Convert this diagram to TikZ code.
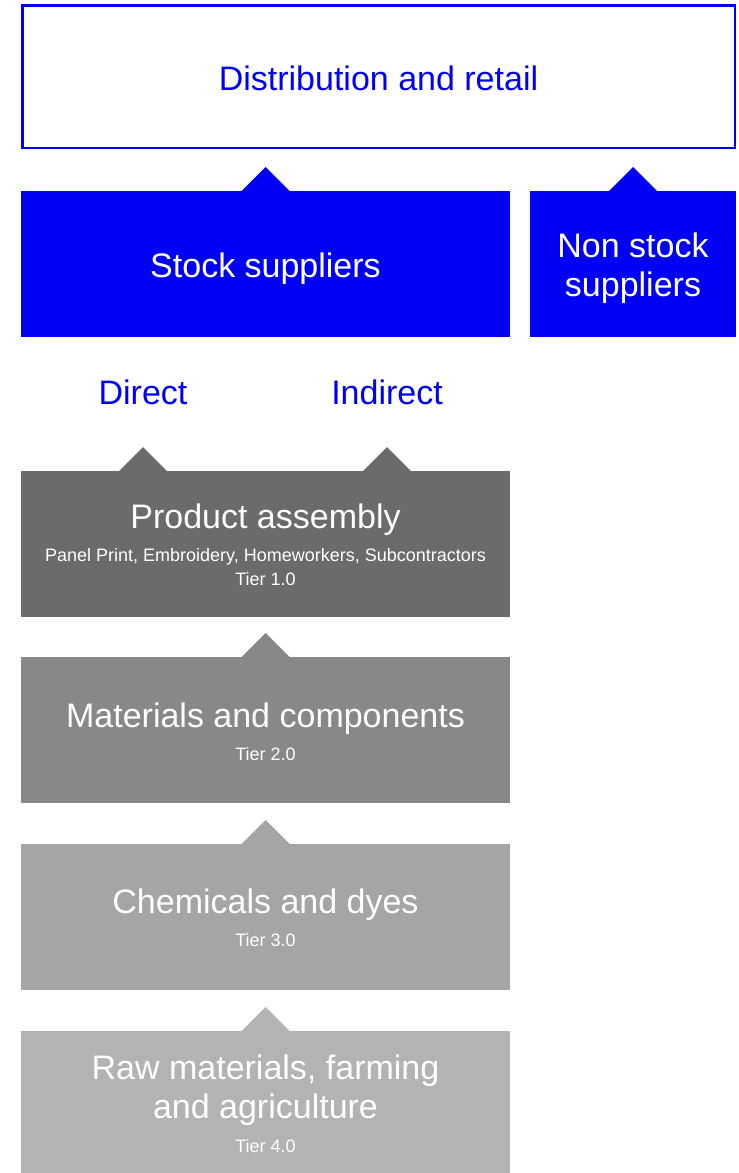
\documentclass[tikz,border=0pt]{standalone}
\usepackage{fontspec}
\setmainfont{Liberation Sans}
\usetikzlibrary{positioning,calc}
\definecolor{retailblue}{RGB}{0,0,245}
\definecolor{tierone}{RGB}{107,107,105}
\definecolor{tiertwo}{RGB}{136,136,134}
\definecolor{tierthree}{RGB}{165,165,165}
\definecolor{tierfour}{RGB}{179,179,179}

\begin{document}
\begin{tikzpicture}[x=1pt,y=-1pt,
  panel/.style={anchor=north west,inner sep=0pt,minimum width=489pt,minimum height=146pt},
  big/.style={font=\fontsize{34}{39}\selectfont,align=center,inner sep=0pt},
  small/.style={font=\fontsize{18}{22}\selectfont,text=white,inner sep=0pt,anchor=base},
]
\useasboundingbox (0,0) rectangle (739,1173);

% top box
\node[draw=retailblue,line width=2.5pt,minimum width=712.5pt,minimum height=142.5pt,inner sep=0pt] (retail) at (378.5,76.5) {};
\node[big,text=retailblue,anchor=base] (retailtxt) at (378.5,90) {Distribution and retail};

% suppliers
\node[panel,fill=retailblue] (stock) at (21,191) {};
\fill[retailblue] ($(stock.north)+(-25,1)$) -- ++(25,-25) -- ++(25,25) -- cycle;
\node[big,text=white,anchor=base] (stocktxt) at (265.5,277) {Stock suppliers};

\node[panel,fill=retailblue,minimum width=206pt] (nonstock) at (530,191) {};
\fill[retailblue] ($(nonstock.north)+(-25,1)$) -- ++(25,-25) -- ++(25,25) -- cycle;
\node[big,text=white] (nonstocktxt) at (633,268) {Non stock\\suppliers};

\node[big,text=retailblue,anchor=base] (direct) at (143,404) {Direct};
\node[big,text=retailblue,anchor=base] (indirect) at (387,404) {Indirect};

% tiers
\node[panel,fill=tierone] (prod) at (21,471) {};
\fill[tierone] ($(direct |- prod.north)+(-25,1)$) -- ++(25,-25) -- ++(25,25) -- cycle;
\fill[tierone] ($(indirect |- prod.north)+(-25,1)$) -- ++(25,-25) -- ++(25,25) -- cycle;
\node[big,text=white,anchor=base] (prodtxt) at (265.5,528) {Product assembly};
\node[small] (prodsub) at (265.5,561) {Panel Print, Embroidery, Homeworkers, Subcontractors};
\node[small] (prodtier) at (265.5,585) {Tier 1.0};

\node[panel,fill=tiertwo] (mat) at (21,657) {};
\fill[tiertwo] ($(mat.north)+(-25,1)$) -- ++(25,-25) -- ++(25,25) -- cycle;
\node[big,text=white,anchor=base] (mattxt) at (265.5,727) {Materials and components};
\node[small] (mattier) at (265.5,760.5) {Tier 2.0};

\node[panel,fill=tierthree] (chem) at (21,844) {};
\fill[tierthree] ($(chem.north)+(-25,1)$) -- ++(25,-25) -- ++(25,25) -- cycle;
\node[big,text=white,anchor=base] (chemtxt) at (265.5,913) {Chemicals and dyes};
\node[small] (chemtier) at (265.5,946) {Tier 3.0};

\node[panel,fill=tierfour,minimum height=142pt] (raw) at (21,1031) {};
\fill[tierfour] ($(raw.north)+(-25,1)$) -- ++(25,-25) -- ++(25,25) -- cycle;
\node[big,text=white] (rawtxt) at (265.5,1090) {Raw materials, farming\\and agriculture};
\node[small] (rawtier) at (265.5,1152) {Tier 4.0};

\end{tikzpicture}
\end{document}
